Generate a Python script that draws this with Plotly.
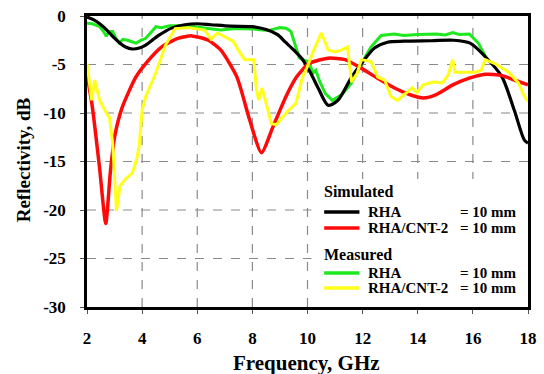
import plotly.graph_objects as go

# ---------------- data ----------------
sim_rha_f = [2.0, 2.25, 2.46, 2.7, 2.93, 3.2, 3.4, 3.64, 3.9, 4.13, 4.6, 5.07, 5.55, 6.0, 6.5, 7.2, 8.0, 8.5, 8.9, 9.2, 9.5, 9.8,
             10.1, 10.4, 10.75, 11.1, 11.6, 11.96, 12.43, 12.9, 13.5, 14.5, 15.3, 15.9, 16.45, 17.05, 17.5, 17.87, 18.0]
sim_rha_v = [-0.1, -0.4, -0.8, -1.4, -2.1, -2.8, -3.2, -3.4, -3.3, -3.0, -2.0, -1.25, -0.9, -0.8, -0.9, -1.05, -1.1, -1.4, -1.9, -2.7, -3.5, -4.4,
             -5.8, -7.5, -9.2, -8.7, -6.3, -4.9, -3.3, -2.7, -2.6, -2.55, -2.5, -2.8, -4.2, -6.25, -9.7, -12.8, -13.1]

sim_cnt_f = [2.0, 2.2, 2.45, 2.68, 2.85, 3.0, 3.28, 3.77, 4.13, 4.7, 5.3, 5.8, 6.4, 6.85, 7.44, 7.9, 8.33, 8.75, 9.22, 9.6,
             10.05, 10.75, 11.36, 11.96, 12.53, 13.14, 13.8, 14.2, 14.67, 15.27, 15.87, 16.45, 17.05, 17.5, 18.0]
sim_cnt_v = [-6.0, -9.5, -15.5, -21.4, -16.0, -12.5, -9.4, -6.3, -4.9, -3.2, -2.3, -2.05, -2.5, -3.5, -6.3, -10.7, -14.1, -11.4, -8.3, -6.3,
             -4.9, -4.35, -4.5, -5.4, -6.4, -7.4, -8.2, -8.45, -8.1, -7.1, -6.4, -6.0, -6.15, -6.6, -7.1]

meas_rha_f = [2.0, 2.2, 2.46, 2.6, 2.7, 2.8, 2.93, 3.05, 3.17, 3.3, 3.47, 3.6, 3.78, 3.95, 4.13, 4.35, 4.5, 4.7, 5.0, 5.3,
              5.9, 6.4, 6.85, 7.4, 8.04, 8.6, 9.0, 9.22, 9.4, 9.7, 9.82, 10.05, 10.2, 10.3, 10.45, 10.65, 10.9, 11.25, 11.6,
              11.96, 12.3, 12.67, 13.14, 13.5, 14.0, 14.67, 15.0, 15.27, 15.5, 15.87, 16.2, 16.5]
meas_rha_v = [-0.75, -0.8, -1.1, -1.6, -2.1, -1.6, -1.6, -2.3, -2.8, -2.4, -2.5, -2.6, -2.8, -2.5, -2.3, -1.6, -1.1, -1.2, -1.0, -1.0,
              -1.1, -1.3, -1.45, -1.3, -1.35, -1.5, -1.2, -1.25, -1.6, -4.3, -4.5, -4.7, -5.9, -5.6, -6.8, -8.0, -8.7, -8.1, -6.9,
              -4.9, -3.2, -2.0, -1.85, -2.0, -1.9, -1.85, -1.95, -1.7, -1.9, -1.85, -2.8, -4.4]

meas_cnt_f = [2.0, 2.17, 2.28, 2.46, 2.7, 2.82, 2.93, 3.07, 3.2, 3.4, 3.64, 3.8, 3.89, 4.0, 4.13, 4.49, 4.85, 5.2, 5.67, 6.0,
              6.27, 6.4, 6.5, 6.73, 7.09, 7.3, 7.55, 7.73, 8.05, 8.15, 8.23, 8.35, 8.5, 8.69, 8.87, 9.22, 9.58, 9.82, 10.0,
              10.2, 10.5, 10.75, 11.0, 11.25, 11.45, 11.6, 11.8, 11.96, 12.3, 12.55, 12.8, 13.03, 13.26, 13.6, 13.8, 13.96,
              14.2, 14.56, 14.9, 15.1, 15.27, 15.35, 15.63, 16.1, 16.3, 16.45, 16.8, 17.3, 17.65, 17.87, 18.0]
meas_cnt_v = [-4.9, -8.7, -6.6, -8.7, -10.0, -10.5, -13.1, -20.1, -17.5, -16.8, -16.2, -14.8, -13.5, -9.7, -8.3, -5.9, -3.0, -1.3, -1.2, -1.3,
              -1.45, -2.0, -2.4, -1.75, -2.3, -2.6, -3.8, -4.5, -4.5, -7.6, -8.7, -7.4, -9.0, -11.1, -11.2, -10.0, -9.0, -6.3, -5.2,
              -3.7, -1.75, -3.5, -3.7, -3.5, -3.2, -6.8, -5.9, -4.5, -4.7, -6.3, -6.6, -8.3, -8.7, -7.9, -7.4, -7.9,
              -7.1, -6.8, -6.9, -6.1, -4.5, -5.8, -5.8, -5.8, -5.6, -4.5, -4.9, -5.8, -6.9, -8.3, -8.8]

x_ticks = [2, 4, 6, 8, 10, 12, 14, 16, 18]
y_ticks = [0, -5, -10, -15, -20, -25, -30]

legend_groups = ["Simulated", "Measured"]
legend_names = ["RHA", "RHA/CNT-2", "RHA", "RHA/CNT-2"]
legend_suffix = "= 10 mm"

# ---------------- styling ----------------
BLACK, RED, GREEN, YELLOW = "#000000", "#ff0a0a", "#1ee81e", "#ffff1a"
SERIF = "Liberation Serif"

fig = go.Figure()
fig.add_trace(go.Scatter(x=meas_rha_f, y=meas_rha_v, mode="lines", line=dict(color=GREEN, width=3)))
fig.add_trace(go.Scatter(x=sim_rha_f, y=sim_rha_v, mode="lines", line=dict(color=BLACK, width=3.2, shape="spline", smoothing=0.8)))
fig.add_trace(go.Scatter(x=sim_cnt_f, y=sim_cnt_v, mode="lines", line=dict(color=RED, width=3.5, shape="spline", smoothing=0.6)))
fig.add_trace(go.Scatter(x=meas_cnt_f, y=meas_cnt_v, mode="lines", line=dict(color=YELLOW, width=3)))

L, R, T, B = 87, 537, 16, 307
W, H = R - L, B - T


def px(p):
    return (p - L) / W


def py(q):
    return (B - q) / H


GRID = dict(color="#8a8a8a", width=1.2, dash="dash")
shapes = []
for xv in x_ticks[1:-1]:
    shapes.append(dict(type="line", xref="x", yref="paper", x0=xv, x1=xv, y0=0, y1=1, line=GRID, layer="below"))
for yv in y_ticks[1:-1]:
    shapes.append(dict(type="line", xref="paper", yref="y", x0=0, x1=1, y0=yv, y1=yv, line=GRID, layer="below"))

shapes.append(dict(type="rect", xref="paper", yref="paper", x0=px(316), x1=1, y0=0, y1=py(179),
                   fillcolor="white", line=dict(width=0), layer="above"))
annotations = []

lf = dict(family=SERIF, size=15, color="black")
for title, yy in zip(legend_groups, [191, 254]):
    annotations.append(dict(xref="paper", yref="paper", x=px(327), y=py(yy), text="<b>%s</b>" % title, showarrow=False,
                            xanchor="left", yanchor="middle", font=dict(family=SERIF, size=16, color="black")))
entry_y = [212, 228, 273, 288]
entry_c = [BLACK, RED, GREEN, YELLOW]
for name, yy, c in zip(legend_names, entry_y, entry_c):
    shapes.append(dict(type="line", xref="paper", yref="paper", x0=px(329), x1=px(365), y0=py(yy), y1=py(yy),
                       line=dict(color=c, width=3.5), layer="above"))
    annotations.append(dict(xref="paper", yref="paper", x=px(372), y=py(yy), text="<b>%s</b>" % name, showarrow=False,
                            xanchor="left", yanchor="middle", font=lf))
    annotations.append(dict(xref="paper", yref="paper", x=px(466), y=py(yy), text="<b>%s</b>" % legend_suffix, showarrow=False,
                            xanchor="left", yanchor="middle", font=lf))

annotations.append(dict(xref="paper", yref="paper", x=px(311), y=py(363), text="<b>Frequency, GHz</b>", showarrow=False,
                        xanchor="center", yanchor="middle", font=dict(family=SERIF, size=21, color="black")))
annotations.append(dict(xref="paper", yref="paper", x=px(22), y=py(160), text="<b>Reflectivity, dB</b>", showarrow=False,
                        textangle=-90, xanchor="center", yanchor="middle",
                        font=dict(family=SERIF, size=19, color="black")))

tickfont = dict(family=SERIF, size=17, color="black")
fig.update_layout(
    width=544, height=374,
    margin=dict(l=L, r=544 - R, t=T, b=374 - B),
    paper_bgcolor="white", plot_bgcolor="white",
    showlegend=False,
    shapes=shapes, annotations=annotations,
    xaxis=dict(range=[2, 18], tickvals=x_ticks, ticktext=["<b>%d</b>" % v for v in x_ticks], tickfont=tickfont,
               showgrid=False,
               showline=True, linecolor="black", linewidth=2.5, mirror=True,
               ticks="outside", ticklen=4, tickcolor="#555", tickwidth=1, ticklabelstandoff=10, zeroline=False),
    yaxis=dict(range=[-30, 0], tickvals=y_ticks, ticktext=["<b>%d</b>" % v for v in y_ticks], tickfont=tickfont,
               showgrid=False,
               showline=True, linecolor="black", linewidth=2.5, mirror=True,
               ticks="outside", ticklen=4, tickcolor="#555", tickwidth=1, ticklabelstandoff=11, zeroline=False),
)

fig.write_html("out.html")
